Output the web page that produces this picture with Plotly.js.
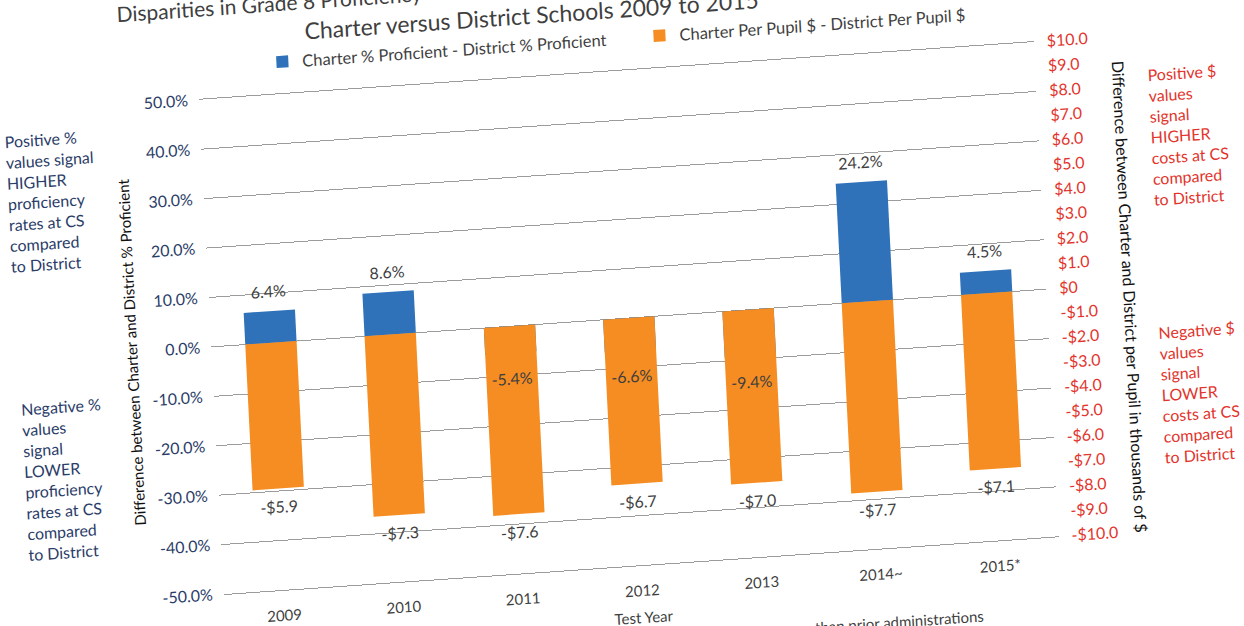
<!DOCTYPE html>
<html>
<head>
<meta charset="utf-8">
<script src="https://cdn.plot.ly/plotly-3.0.1.min.js"></script>
<style>
  html, body { margin: 0; padding: 0; background: #ffffff; overflow: hidden; width: 1244px; height: 626px; }
  #wrap { position: absolute; left: -40px; top: -40px; width: 1324px; height: 706px;
          transform: matrix(0.9976, -0.069, 0.05, 0.9985, 0, 0); transform-origin: 50% 50%; }
  #chart { width: 1324px; height: 706px; }
</style>
</head>
<body>
<div id="wrap"><div id="chart"></div></div>
<script>
// ---- data ----
const years = ['2009', '2010', '2011', '2012', '2013', '2014~', '2015*'];
const proficiencyDiff = [6.4, 8.6, -5.4, -6.6, -9.4, 24.2, 4.5];        // Charter % - District % (percentage points)
const perPupilDiff = [-5.9, -7.3, -7.6, -6.7, -7.0, -7.7, -7.1];        // Charter $ - District $ (thousands)

const pctTickVals = [-50, -40, -30, -20, -10, 0, 10, 20, 30, 40, 50];
const pctTickText = ['-50.0%', '-40.0%', '-30.0%', '-20.0%', '-10.0%', '0.0%', '10.0%', '20.0%', '30.0%', '40.0%', '50.0%'];
const dollarTickVals = [-10, -9, -8, -7, -6, -5, -4, -3, -2, -1, 0, 1, 2, 3, 4, 5, 6, 7, 8, 9, 10];
const dollarTickText = ['-$10.0', '-$9.0', '-$8.0', '-$7.0', '-$6.0', '-$5.0', '-$4.0', '-$3.0', '-$2.0', '-$1.0', '$0',
                        '$1.0', '$2.0', '$3.0', '$4.0', '$5.0', '$6.0', '$7.0', '$8.0', '$9.0', '$10.0'];

const seriesNames = ['Charter % Proficient - District % Proficient', 'Charter Per Pupil $ - District Per Pupil $'];
const titleLine1 = 'Disparities in Grade 8 Proficiency';
const titleLine2 = 'Charter versus District Schools 2009 to 2015';

// ---- styling ----
const FONT = 'Lato, "Open Sans", "DejaVu Sans", sans-serif';
const BLUE = '#2f72b9';
const ORANGE = '#f68d22';
const NAVY = '#2a3c68';
const RED = '#e2342c';
const DARK = '#3f3f3f';
const GRID = '#9c9c9c';
const CLEAR = 'rgba(0,0,0,0)';

const pctLabels = proficiencyDiff.map(v => v.toFixed(1) + '%');
const pctPositions = proficiencyDiff.map(v => v >= 0 ? 'top center' : 'bottom center');
const pctLabelGap = proficiencyDiff.map(v => v >= 0 ? 14 : 30);   // spacing of the label from the bar end
const dollarLabels = perPupilDiff.map(v => (v < 0 ? '-$' : '$') + Math.abs(v).toFixed(1));

const traces = [
  {
    type: 'bar', name: seriesNames[0], x: years, y: proficiencyDiff,
    yaxis: 'y', width: 0.43, marker: { color: BLUE }, hoverinfo: 'skip'
  },
  {
    type: 'bar', name: seriesNames[1], x: years, y: perPupilDiff,
    yaxis: 'y2', width: 0.43, marker: { color: ORANGE }, hoverinfo: 'skip'
  },
  {
    type: 'scatter', mode: 'markers+text', x: years, y: perPupilDiff, yaxis: 'y2',
    marker: { size: 18, color: CLEAR, opacity: 0, line: { width: 0 } },
    text: dollarLabels, textposition: 'bottom center', cliponaxis: false,
    textfont: { family: FONT, size: 16, color: DARK }, showlegend: false, hoverinfo: 'skip'
  },
  {
    type: 'scatter', mode: 'markers+text', x: years, y: proficiencyDiff, yaxis: 'y3',
    marker: { size: pctLabelGap, color: CLEAR, opacity: 0, line: { width: 0 } },
    text: pctLabels, textposition: pctPositions, cliponaxis: false,
    textfont: { family: FONT, size: 16, color: DARK }, showlegend: false, hoverinfo: 'skip'
  }
];

const layout = {
  width: 1324, height: 706,
  margin: { l: 250, r: 237, t: 111, b: 100 },
  paper_bgcolor: '#ffffff', plot_bgcolor: '#ffffff',
  font: { family: FONT, color: DARK },
  barmode: 'overlay',
  showlegend: true,
  title: {
    text: titleLine2, x: 0.443, xanchor: 'center', xref: 'container',
    y: 0.929, yanchor: 'middle', yref: 'container',
    font: { family: FONT, size: 23, color: DARK }
  },
  legend: {
    orientation: 'h', x: 0.078, xanchor: 'left', y: 1.0646, yanchor: 'middle',
    entrywidth: 333, entrywidthmode: 'pixels',
    font: { family: FONT, size: 16.5, color: DARK }, bgcolor: CLEAR
  },
  xaxis: {
    type: 'category', showgrid: false, zeroline: false, ticks: '',
    showline: true, mirror: true, linecolor: GRID, linewidth: 1,
    ticklabelstandoff: 12,
    tickfont: { family: FONT, size: 15, color: DARK },
    title: { text: 'Test Year', standoff: 14, font: { family: FONT, size: 15, color: DARK } }
  },
  yaxis: {
    range: [-50, 50], tickmode: 'array', tickvals: pctTickVals, ticktext: pctTickText,
    showgrid: true, gridcolor: GRID, gridwidth: 1, zeroline: false, showline: false, ticks: '',
    ticklabelstandoff: 10,
    tickfont: { family: FONT, size: 16, color: NAVY },
    title: { text: 'Difference between Charter and District % Proficient', standoff: 8,
             font: { family: FONT, size: 15, color: '#111111' } }
  },
  yaxis2: {
    overlaying: 'y', side: 'right', range: [-10, 10], tickmode: 'array',
    tickvals: dollarTickVals, ticktext: dollarTickText,
    showgrid: false, zeroline: false, showline: false, ticks: '', ticklabelstandoff: 12,
    tickfont: { family: FONT, size: 16, color: RED }
  },
  yaxis3: {
    overlaying: 'y', range: [-50, 50], visible: false, showgrid: false, zeroline: false
  },
  annotations: [
    { text: titleLine1, xref: 'paper', yref: 'paper', x: -0.095, y: 1.1855, xanchor: 'left', yanchor: 'middle',
      showarrow: false, font: { family: FONT, size: 21, color: DARK } },
    { text: 'Positive %<br>values signal<br>HIGHER<br>proficiency<br>rates at CS<br>compared<br>to District',
      xref: 'paper', yref: 'paper', x: -0.237, y: 0.816, xanchor: 'left', yanchor: 'middle', align: 'left',
      showarrow: false, font: { family: FONT, size: 16, color: NAVY } },
    { text: 'Negative %<br>values<br>signal<br>LOWER<br>proficiency<br>rates at CS<br>compared<br>to District',
      xref: 'paper', yref: 'paper', x: -0.233, y: 0.2535, xanchor: 'left', yanchor: 'middle', align: 'left',
      showarrow: false, font: { family: FONT, size: 16, color: NAVY } },
    { text: 'Positive $<br>values<br>signal<br>HIGHER<br>costs at CS<br>compared<br>to District',
      xref: 'paper', yref: 'paper', x: 1.131, y: 0.792, xanchor: 'left', yanchor: 'middle', align: 'left',
      showarrow: false, font: { family: FONT, size: 16, color: RED } },
    { text: 'Negative $<br>values<br>signal<br>LOWER<br>costs at CS<br>compared<br>to District',
      xref: 'paper', yref: 'paper', x: 1.129, y: 0.2707, xanchor: 'left', yanchor: 'middle', align: 'left',
      showarrow: false, font: { family: FONT, size: 16, color: RED } },
    { text: 'Difference between Charter and District per Pupil in thousands of $',
      xref: 'paper', yref: 'paper', x: 1.100, y: 0.4727, xanchor: 'center', yanchor: 'middle', textangle: 90,
      showarrow: false, font: { family: FONT, size: 16, color: '#111111' } },
    { text: 'than prior administrations',
      xref: 'paper', yref: 'paper', x: 0.908, y: -0.150, xanchor: 'right', yanchor: 'middle',
      showarrow: false, font: { family: FONT, size: 15, color: DARK } }
  ]
};

Plotly.newPlot('chart', traces, layout, { staticPlot: true, displayModeBar: false });
</script>
</body>
</html>
